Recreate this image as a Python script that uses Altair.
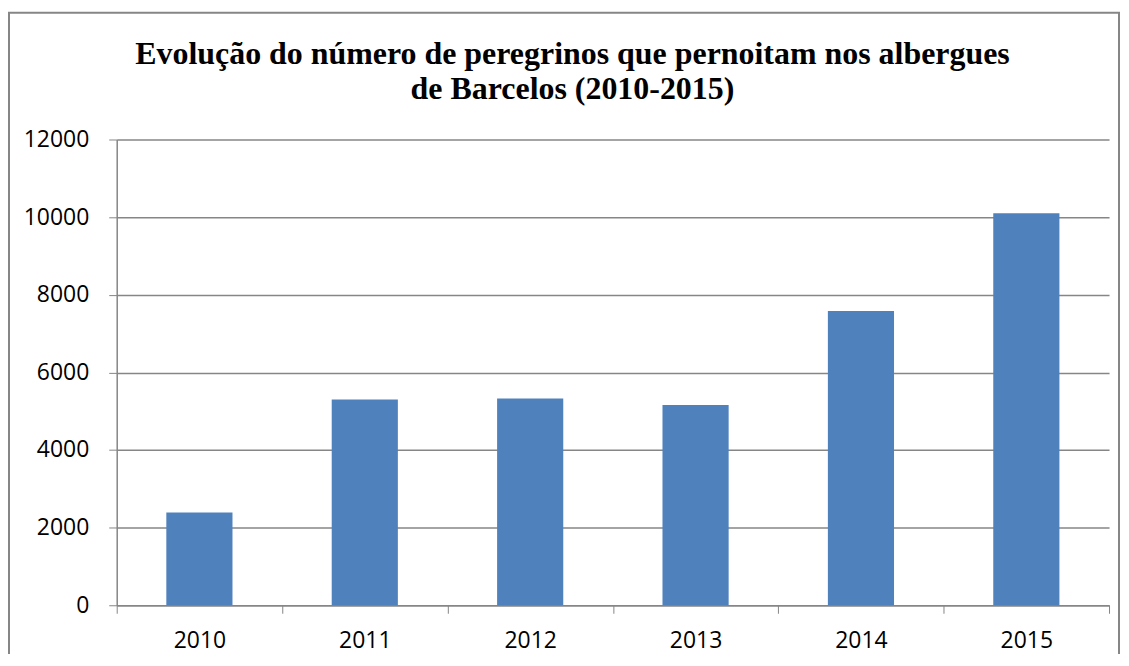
import altair as alt
import pandas as pd

years = ["2010", "2011", "2012", "2013", "2014", "2015"]
pilgrims = [2390, 5300, 5330, 5160, 7580, 10100]
y_ticks = [0, 2000, 4000, 6000, 8000, 10000, 12000]
title_lines = [
    "Evolução do número de peregrinos que pernoitam nos albergues",
    "de Barcelos (2010-2015)",
]

df = pd.DataFrame({"ano": years, "peregrinos": pilgrims})

GRID = "#868686"

bars = alt.Chart(df).mark_bar(
    color="#4F81BD", width=alt.RelativeBandSize(0.4)
).encode(
    x=alt.X(
        "ano:N",
        sort=years,
        scale=alt.Scale(paddingInner=0, paddingOuter=0),
        axis=alt.Axis(
            title=None,
            labelAngle=0,
            tickBand="extent",
            tickSize=8,
            tickColor=GRID,
            domainColor=GRID,
            domainWidth=1.5,
            labelPadding=16,
            labelFont="Open Sans",
            labelFontSize=23,
            labelColor="#000000",
            grid=False,
        ),
    ),
    y=alt.Y(
        "peregrinos:Q",
        scale=alt.Scale(domain=[0, 12000], nice=False),
        axis=alt.Axis(
            title=None,
            values=y_ticks,
            format="d",
            tickSize=8,
            tickColor=GRID,
            domainColor=GRID,
            domainWidth=1.5,
            gridColor=GRID,
            gridWidth=1.5,
            labelPadding=20,
            labelFont="Open Sans",
            labelFontSize=23,
            labelColor="#000000",
        ),
    ),
)

border = alt.Chart(alt.Data(values=[{}])).mark_rect(
    fill=None, stroke=GRID, strokeWidth=2
).encode(
    x=alt.value(-108),
    x2=alt.value(1005),
    y=alt.value(-127),
    y2=alt.value(540),
)

title = alt.Chart(alt.Data(values=[{}])).mark_text(
    font="Liberation Serif",
    fontSize=32,
    fontWeight="bold",
    color="#000000",
    align="center",
    baseline="alphabetic",
    lineHeight=35,
).encode(
    x=alt.value(457),
    y=alt.value(-76),
    text=alt.value(title_lines),
)

chart = alt.layer(border, bars, title).properties(
    width=995,
    height=467,
    autosize=alt.AutoSizeParams(type="none"),
    padding={"left": 109, "top": 131, "right": 12, "bottom": 48},
).configure_view(stroke=None)

chart.save("out.html", embed_options={"renderer": "svg", "actions": False})
